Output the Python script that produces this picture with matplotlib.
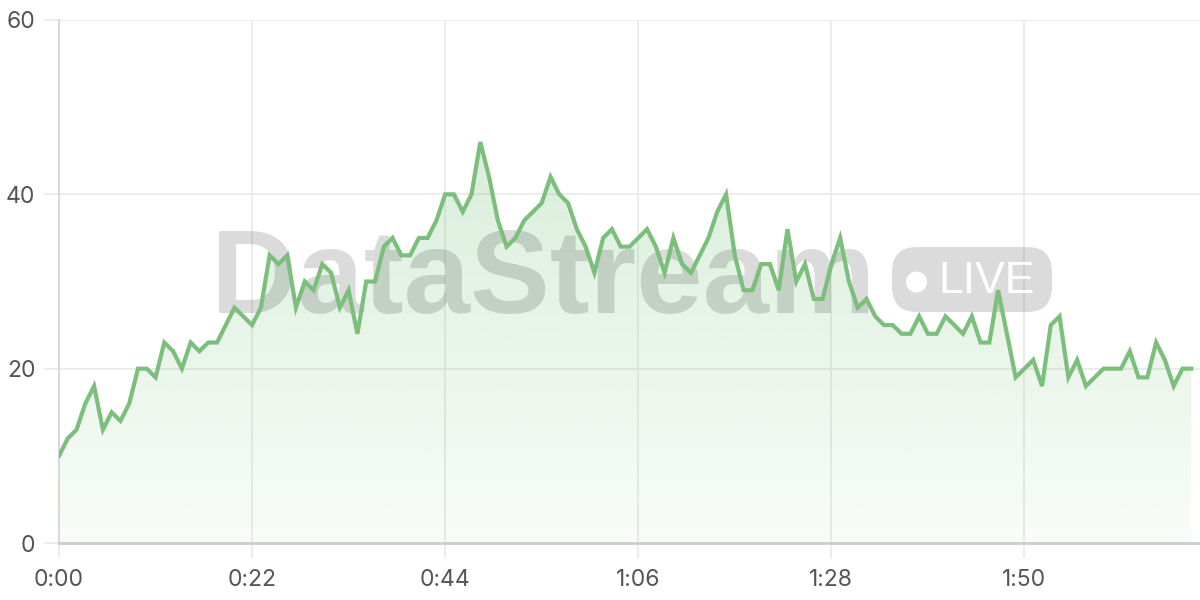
import numpy as np
import matplotlib
matplotlib.use("Agg")
import matplotlib.pyplot as plt
from matplotlib.patches import FancyBboxPatch, Circle

# seconds since start, one sample per second
seconds = list(range(130))
values = [
    10, 12, 13, 16, 18, 13, 15, 14, 16, 20,
    20, 19, 23, 22, 20, 23, 22, 23, 23, 25,
    27, 26, 25, 27, 33, 32, 33, 27, 30, 29,
    32, 31, 27, 29, 24, 30, 30, 34, 35, 33,
    33, 35, 35, 37, 40, 40, 38, 40, 46, 42,
    37, 34, 35, 37, 38, 39, 42, 40, 39, 36,
    34, 31, 35, 36, 34, 34, 35, 36, 34, 31,
    35, 32, 31, 33, 35, 38, 40, 33, 29, 29,
    32, 32, 29, 36, 30, 32, 28, 28, 32, 35,
    30, 27, 28, 26, 25, 25, 24, 24, 26, 24,
    24, 26, 25, 24, 26, 23, 23, 29, 24, 19,
    20, 21, 18, 25, 26, 19, 21, 18, 19, 20,
    20, 20, 22, 19, 19, 23, 21, 18, 20, 20,
]
x_ticks = [0, 22, 44, 66, 88, 110]
x_labels = ["0:00", "0:22", "0:44", "1:06", "1:28", "1:50"]
y_ticks = [0, 20, 40, 60]

LINE = "#7cbf7c"
GRID = "#ebebeb"
TEXT = "#555555"

plt.rcParams["font.family"] = ["Inter", "DejaVu Sans"]

fig = plt.figure(figsize=(12, 6), dpi=100)
ax = fig.add_axes([59 / 1200, 57 / 600, 1141 / 1200, 523 / 600])

x = np.array(seconds, dtype=float)
y = np.array(values, dtype=float)

# gradient fill under the line
poly = ax.fill_between(x, y, 0, color="none", lw=0, zorder=1)
grad = np.zeros((256, 1, 4))
grad[:, 0, 0] = 129 / 255
grad[:, 0, 1] = 199 / 255
grad[:, 0, 2] = 132 / 255
grad[:, 0, 3] = np.linspace(0.05, 0.30, 256)
img = ax.imshow(grad, extent=[0, 130, 0, 46], origin="lower", aspect="auto",
                zorder=1, interpolation="bilinear")
img.set_clip_path(poly.get_paths()[0], transform=ax.transData)
ax.set_xlim(0, 130)
ax.set_ylim(0, 60)

ax.plot(x, y, color=LINE, lw=3, zorder=3, solid_joinstyle="miter")

# watermark
ax.text(2.11, 2.87, "DataStream", transform=fig.dpi_scale_trans,
        fontsize=86, fontweight="bold", family="Liberation Sans",
        color="black", alpha=0.14, ha="left", va="baseline",
        zorder=2, clip_on=False)
badge = FancyBboxPatch((8.92, 2.88), 1.6, 0.65,
                       boxstyle="round,pad=0,rounding_size=0.25",
                       transform=fig.dpi_scale_trans, facecolor="black",
                       alpha=0.14, edgecolor="none", zorder=2, clip_on=False)
ax.add_patch(badge)
ax.add_patch(Circle((9.165, 3.18), 0.105, transform=fig.dpi_scale_trans,
                    facecolor="white", edgecolor="none", zorder=2, clip_on=False))
ax.text(9.38, 3.07, "LIVE", transform=fig.dpi_scale_trans, fontsize=32,
        family="Liberation Sans", color="white", ha="left", va="baseline",
        zorder=2, clip_on=False)

# axes styling
ax.set_xticks(x_ticks)
ax.set_xticklabels(x_labels)
ax.set_yticks(y_ticks)
ax.grid(True, color=GRID, lw=1.3, zorder=0)
ax.set_axisbelow(True)
for s in ("top", "right"):
    ax.spines[s].set_visible(False)
ax.spines["left"].set_color("#d6d6d6")
ax.spines["left"].set_linewidth(1.3)
ax.spines["bottom"].set_color("#cccccc")
ax.spines["bottom"].set_linewidth(2)
ax.tick_params(axis="both", length=11, width=1.3, color=GRID,
               labelsize=16.5, labelcolor=TEXT)
ax.tick_params(axis="y", pad=6)
ax.tick_params(axis="x", pad=8)

fig.savefig("out.png", dpi=100)
